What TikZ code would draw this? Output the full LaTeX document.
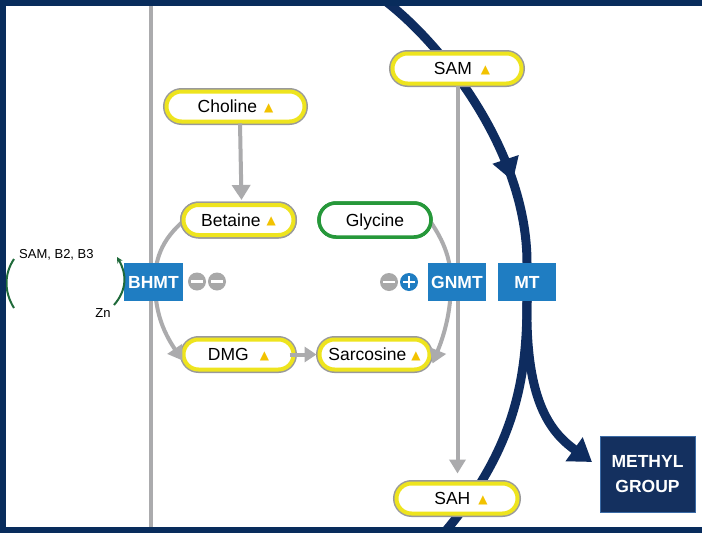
\documentclass[tikz,border=0pt]{standalone}
\usepackage{fontspec}
\setmainfont{Liberation Sans}
\newfontfamily\symfont{DejaVu Sans}
\usetikzlibrary{arrows.meta,decorations.markings}
\definecolor{navy}{HTML}{0E2C5F}
\definecolor{framenavy}{HTML}{082C5C}
\definecolor{linegray}{HTML}{ABABAD}
\definecolor{pillgray}{HTML}{9A9A9A}
\definecolor{pillyellow}{HTML}{EEE41E}
\definecolor{triyellow}{HTML}{F2C200}
\definecolor{glygreen}{HTML}{26983A}
\definecolor{enzblue}{HTML}{1F7DC2}
\definecolor{circgray}{HTML}{A8A8A8}
\definecolor{brgreen}{HTML}{1F6A3A}
\definecolor{methylfill}{HTML}{14305F}
\definecolor{methylborder}{HTML}{3A6AA5}
\newcommand\tri{\raisebox{1.5pt}{\textcolor{triyellow}{\symfont\fontsize{12}{12}\selectfont ▲}}}
\begin{document}
\begin{tikzpicture}[x=1pt,y=-1pt,
  pill/.style={preaction={draw=pillgray,line width=7pt}, fill=white, draw=pillyellow, line width=4pt,
    rounded corners=15pt, minimum height=30pt, inner sep=0pt, text height=12.6pt, text depth=0pt,
    font=\fontsize{17.5}{20}\selectfont},
  glypill/.style={fill=white, draw=glygreen, line width=3.5pt, rounded corners=17pt,
    minimum height=34pt, minimum width=112pt, inner sep=0pt, text height=12.6pt, text depth=0pt,
    font=\fontsize{17.5}{20}\selectfont},
  enzyme/.style={fill=enzblue, text=white, font=\bfseries\fontsize{17.5}{20}\selectfont,
    minimum height=38pt, minimum width=58pt, inner sep=0pt, text height=12.6pt, text depth=0pt},
  methyl/.style={fill=methylfill, draw=methylborder, line width=1pt, text=white, align=center,
    font=\bfseries\fontsize{17.5}{25}\selectfont, minimum width=95pt, minimum height=76pt, inner sep=0pt},
  signcirc/.style={circle, minimum size=18pt, inner sep=0pt},
  minussign/.style={signcirc, fill=circgray, path picture={
    \fill[white] ([xshift=-6pt,yshift=-1.4pt]path picture bounding box.center) rectangle ([xshift=6pt,yshift=1.4pt]path picture bounding box.center);}},
  plussign/.style={signcirc, fill=enzblue, path picture={
    \fill[white] ([xshift=-6pt,yshift=-1.4pt]path picture bounding box.center) rectangle ([xshift=6pt,yshift=1.4pt]path picture bounding box.center);
    \fill[white] ([xshift=-1.4pt,yshift=-6pt]path picture bounding box.center) rectangle ([xshift=1.4pt,yshift=6pt]path picture bounding box.center);}},
  grayline/.style={draw=linegray, line width=4pt},
  grayarrow/.style={grayline, -{Triangle[length=15pt,width=18pt]}},
  navyline/.style={draw=navy, line width=9pt},
  bracket/.style={draw=brgreen, line width=2pt},
  smalllabel/.style={font=\fontsize{13}{15}\selectfont, inner sep=0pt}
]
\useasboundingbox (0,0) rectangle (702,533);
\fill[white] (0,0) rectangle (702,533);

% coordinates
\coordinate (ltop) at (150.5,0);
\coordinate (lbot) at (150.5,533);
\coordinate (navytop) at (384,0);
\coordinate (navybot) at (438,540);
\coordinate (mtn) at (527,263);
\coordinate (mts) at (527,301);

% gray vertical line
\draw[grayline] (ltop) -- (lbot);

% navy curves
\draw[navyline, postaction={decorate}, decoration={markings,
   mark=at position 0.73 with {\arrow{Triangle[length=23pt,width=26pt]}}}]
  (navytop) .. controls (440,42) and (527,150) .. (mtn);
\draw[navyline] (mts) .. controls (527,380) and (515,452) .. (navybot);
\draw[navyline, -{Triangle[length=22pt,width=28pt]}] (mts) .. controls (525,400) and (550,432) .. (592,462);

% pill nodes
\node[pill, minimum width=138pt] (choline) at (235.5,106.5) {Choline\hspace{7pt}\tri};
\node[pill, minimum width=110pt] (betaine) at (238.5,220) {Betaine\hspace{6pt}\tri};
\node[glypill] (glycine) at (375,220) {Glycine};
\node[pill, minimum width=110pt] (dmg) at (238.5,354.5) {DMG\hspace{11pt}\tri};
\node[pill, minimum width=110pt] (sarc) at (374.5,354.5) {Sarcosine\hspace{5pt}\tri};
\node[pill, minimum width=129pt] (sam) at (457,68.5) {\hspace*{10pt}SAM\hspace{9pt}\tri};
\node[pill, minimum width=121pt] (sah) at (457,498.5) {\hspace*{8pt}SAH\hspace{8pt}\tri};

% gray connectors
\draw[grayarrow] ([xshift=4.5pt]choline.south) -- ([xshift=3pt,yshift=3pt]betaine.north);
\draw[grayline, -{Triangle[length=14pt,width=16pt]}] ([xshift=0.5pt]sam.south) -- ([xshift=0.5pt,yshift=8pt]sah.north);
\draw[grayline, -{Triangle[length=12pt,width=15pt]}] ([xshift=-6pt]dmg.east) -- ([xshift=-1pt]sarc.west);
\draw[grayline, -{Triangle[length=14pt,width=17pt]}]
  ([xshift=-46pt,yshift=6pt]betaine.center) .. controls (162,236) and (155,258) .. (155,282)
  .. controls (155,310) and (162,330) .. ([xshift=-56pt,yshift=-6pt]dmg.center);
\draw[grayline, -{Triangle[length=14pt,width=17pt]}]
  ([xshift=50pt,yshift=6pt]glycine.center) .. controls (443,238) and (451,258) .. (451,282)
  .. controls (451,305) and (447,328) .. ([xshift=58pt,yshift=-9pt]sarc.center);

% redraw pills over the arc starts
\node[pill, minimum width=110pt] at (betaine) {Betaine\hspace{6pt}\tri};
\node[glypill] at (glycine) {Glycine};

% enzymes
\node[enzyme, minimum width=59pt] (bhmt) at (153.5,282) {BHMT};
\node[enzyme] (gnmt) at (457,282) {GNMT};
\node[enzyme] (mt) at (527,282) {MT};
\node[methyl] (methyl) at (647.5,474) {METHYL\\GROUP};

% signs
\node[minussign] (m1) at (197,281.5) {};
\node[minussign] (m2) at (217,281.5) {};
\node[minussign] (m3) at (389,282) {};
\node[plussign] (p1) at (409,282) {};

% cofactor brackets
\coordinate (lbt) at (14,259);
\coordinate (lbb) at (14,308);
\coordinate (rbb) at (114,305);
\coordinate (rbt) at (117,257);
\draw[bracket] (lbt) .. controls (4,274) and (4,292) .. (lbb);
\draw[bracket, -{Stealth[length=6pt,width=6pt]}] (rbb) .. controls (127,290) and (127,274) .. (rbt);
\node[smalllabel, anchor=west] (cof) at (19,255) {SAM, B2, B3};
\node[smalllabel] (zn) at (103,313) {Zn};

% frame
\fill[framenavy] (0,0) rectangle (702,6);
\fill[framenavy] (0,0) rectangle (6,533);
\fill[framenavy] (0,527) rectangle (702,533);
\end{tikzpicture}
\end{document}
